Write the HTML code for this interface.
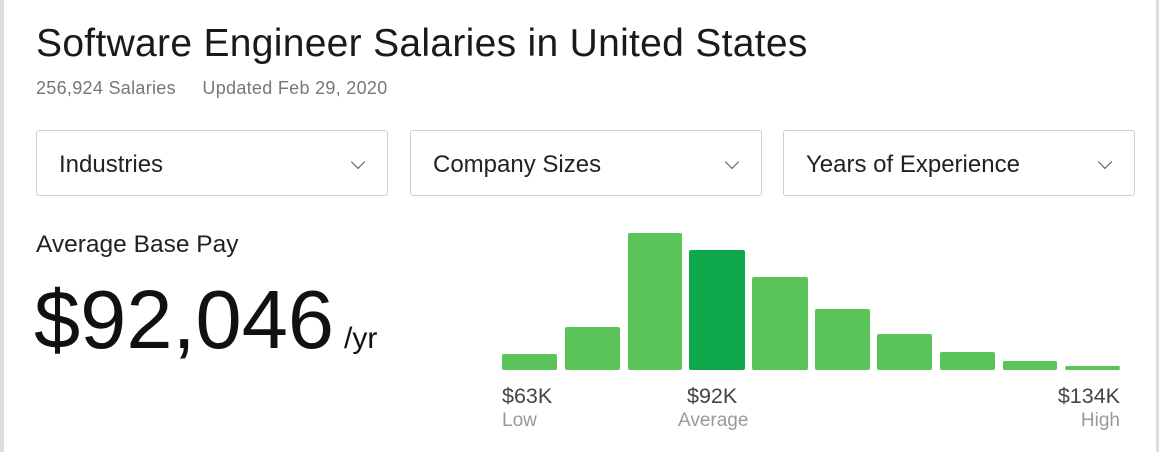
<!DOCTYPE html>
<html><head><meta charset="utf-8"><style>
*{margin:0;padding:0;box-sizing:border-box}
body{width:1160px;height:452px;background:#fff;font-family:"Liberation Sans",sans-serif;position:relative;overflow:hidden;color:#0c0c0c}
.a{position:absolute;white-space:nowrap}
.dd{position:absolute;top:130px;height:66px;border:1.5px solid #cfcfcf;border-radius:3px;font-size:24px;color:#222;padding-left:22px;line-height:68px}
.chev{position:absolute;right:24px;top:26px;width:10px;height:10px;border-right:1px solid #555;border-bottom:1px solid #555;transform:rotate(45deg)}
.bar{position:absolute;background:#5ac35a;border-radius:2px}
.v{font-size:21.5px;color:#444}
.l{font-size:19px;color:#999}
</style></head><body>
<div class="a" style="left:0;top:0;width:4px;height:452px;background:#ddd"></div>
<div class="a" style="left:1156px;top:0;width:3px;height:452px;background:#ddd"></div>
<div class="a" style="left:36px;top:22px;font-size:39px;letter-spacing:0.3px;color:#1a1a1a">Software Engineer Salaries in United States</div>
<div class="a" style="left:36px;top:78px;font-size:18px;letter-spacing:0.3px;color:#777">256,924 Salaries &nbsp;&nbsp;&nbsp;&nbsp;Updated Feb 29, 2020</div>
<div class="dd" style="left:36px;width:352px">Industries<div class="chev"></div></div>
<div class="dd" style="left:410px;width:352px">Company Sizes<div class="chev"></div></div>
<div class="dd" style="left:783px;width:352px">Years of Experience<div class="chev"></div></div>
<div class="a" style="left:36px;top:231px;font-size:24.5px;color:#222">Average Base Pay</div>
<div class="a" style="left:34px;top:272px;font-size:83px;line-height:96px;color:#111">$92,046<span style="font-size:30px;margin-left:10px">/yr</span></div>
<div class="bar" style="left:502px;top:354px;width:55px;height:16px"></div>
<div class="bar" style="left:565px;top:327px;width:55px;height:43px"></div>
<div class="bar" style="left:628px;top:233px;width:54px;height:137px"></div>
<div class="bar" style="left:689px;top:250px;width:56px;height:120px;background:#0fa84a"></div>
<div class="bar" style="left:752px;top:277px;width:56px;height:93px"></div>
<div class="bar" style="left:815px;top:309px;width:55px;height:61px"></div>
<div class="bar" style="left:877px;top:334px;width:55px;height:36px"></div>
<div class="bar" style="left:940px;top:352px;width:55px;height:18px"></div>
<div class="bar" style="left:1003px;top:361px;width:54px;height:9px"></div>
<div class="bar" style="left:1065px;top:366px;width:55px;height:4px"></div>
<div class="a v" style="left:502px;top:384px">$63K</div>
<div class="a l" style="left:502px;top:410px">Low</div>
<div class="a v" style="left:687px;top:384px">$92K</div>
<div class="a l" style="left:678px;top:410px">Average</div>
<div class="a v" style="right:40px;top:384px">$134K</div>
<div class="a l" style="right:40px;top:410px">High</div>
</body></html>
